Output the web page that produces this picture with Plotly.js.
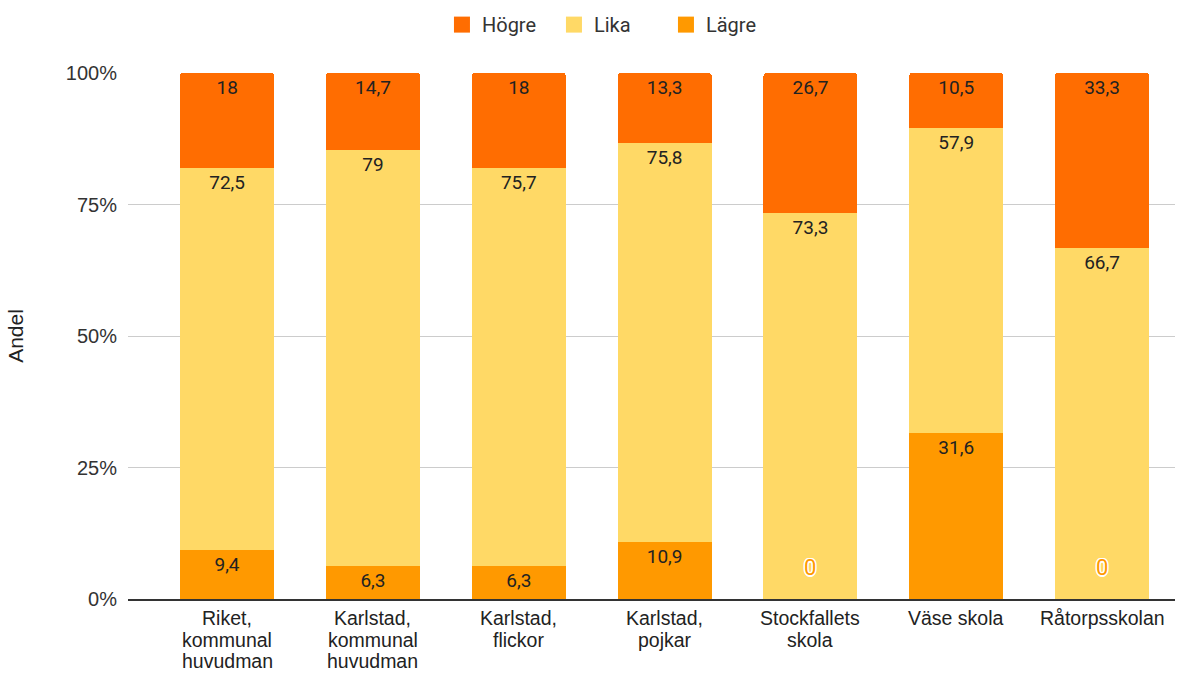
<!DOCTYPE html>
<html>
<head>
<meta charset="utf-8">
<script src="https://cdn.plot.ly/plotly-3.0.1.min.js"></script>
<style>html,body{margin:0;padding:0;background:#fff;}#chart{width:1189px;height:673px;}</style>
</head>
<body>
<div id="chart"></div>
<script>
const categories = ["Riket,<br>kommunal<br>huvudman", "Karlstad,<br>kommunal<br>huvudman", "Karlstad,<br>flickor", "Karlstad,<br>pojkar", "Stockfallets<br>skola", "Väse skola", "Råtorpsskolan"];
const hogre = [18, 14.7, 18, 13.3, 26.7, 10.5, 33.3];
const lika = [72.5, 79, 75.7, 75.8, 73.3, 57.9, 66.7];
const lagre = [9.4, 6.3, 6.3, 10.9, 0, 31.6, 0];
const yTicks = [0, 25, 50, 75, 100];
const yTickText = yTicks.map(v => v + '%');

const colors = {hogre: '#ff6d01', lika: '#ffd966', lagre: '#ff9900'};

const fmt = v => String(v).replace('.', ',');
const labels = arr => arr.map(v => v === 0 ? '' : fmt(v));

const labelFont = {family: 'Roboto', size: 19, color: '#222'};
function barTrace(name, vals, color) {
  return {
    type: 'bar', name: name, x: categories, y: vals,
    marker: {color: color},
    text: labels(vals), textposition: 'inside', insidetextanchor: 'end',
    textangle: 0, textfont: labelFont, constraintext: 'none',
    showlegend: false, hoverinfo: 'x+y+name'
  };
}
function legendTrace(name, color) {
  return {type: 'scatter', mode: 'markers', name: name, x: [null], y: [null],
    marker: {symbol: 'square', size: 16, color: color}, showlegend: true, hoverinfo: 'skip'};
}
const traces = [
  barTrace('Lägre', lagre, colors.lagre),
  barTrace('Lika', lika, colors.lika),
  barTrace('Högre', hogre, colors.hogre),
  legendTrace('Högre', colors.hogre),
  legendTrace('Lika', colors.lika),
  legendTrace('Lägre', colors.lagre)
];

const annotations = [];
lagre.forEach((v, i) => {
  if (v === 0) annotations.push({
    x: categories[i], y: 0, xref: 'x', yref: 'y', text: fmt(v), showarrow: false,
    yshift: 32,
    font: {family: 'Roboto', size: 22, color: colors.lagre,
      shadow: '1px 1px 0 #fff, -1px -1px 0 #fff, 1px -1px 0 #fff, -1px 1px 0 #fff, 0 1.5px 0 #fff, 0 -1.5px 0 #fff, 1.5px 0 0 #fff, -1.5px 0 0 #fff'}
  });
});
// category labels, one annotation per line for tight line spacing
categories.forEach(c => {
  c.split('<br>').forEach((line, k) => {
    annotations.push({
      x: c, y: 0, xref: 'x', yref: 'paper', text: line, showarrow: false,
      yanchor: 'middle', yshift: -(19 + 21.5 * k),
      font: {family: 'Liberation Sans', size: 19.5, color: '#222'}
    });
  });
});

const layout = {
  width: 1189, height: 673,
  margin: {l: 128, r: 14, t: 73, b: 74, autoexpand: false},
  paper_bgcolor: '#fff', plot_bgcolor: '#fff',
  barmode: 'stack', barnorm: 'percent', bargap: 0.356,
  barcornerradius: 3,
  showlegend: true,
  legend: {orientation: 'h', xref: 'container', x: 0.513, xanchor: 'center', y: 1.092, yanchor: 'middle',
    traceorder: 'normal', entrywidth: 67, entrywidthmode: 'pixels',
    font: {family: 'Roboto', size: 20, color: '#333'}},
  xaxis: {
    range: [-0.68, 6.5], showgrid: false, showline: true, linecolor: '#333', linewidth: 2,
    ticks: '', showticklabels: false, fixedrange: true
  },
  yaxis: {
    range: [0, 100], tickmode: 'array', tickvals: yTicks, ticktext: yTickText,
    showgrid: true, gridcolor: '#cccccc',
    zeroline: false, ticks: '', ticklabelstandoff: 10,
    tickfont: {family: 'Liberation Sans', size: 20, color: '#333'},
    title: {text: 'Andel', font: {family: 'Liberation Sans', size: 21, color: '#222'}, standoff: 36},
    fixedrange: true
  },
  annotations: annotations,
  font: {family: 'Roboto'}
};

Plotly.newPlot('chart', traces, layout, {displayModeBar: false, staticPlot: true});
</script>
</body>
</html>
